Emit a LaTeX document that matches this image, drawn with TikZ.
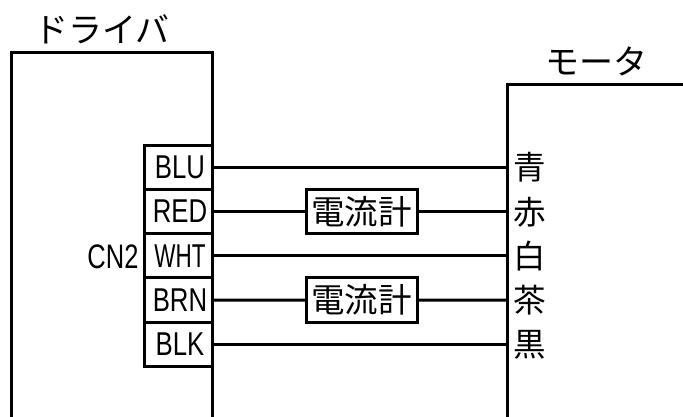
\documentclass[tikz,border=0pt]{standalone}
\usepackage{fontspec}
\usepackage{graphicx}
\setmainfont{Liberation Sans}
\newfontfamily\jpfont{Noto Sans CJK JP}
\newcommand{\narrowtxt}[2]{\scalebox{#1}[1]{#2}}
\tikzset{
  ln/.style={line width=3pt,black},
  pinbox/.style={draw,line width=3pt,minimum width=68pt,minimum height=44.3pt,inner sep=0pt,outer sep=0pt,font=\fontsize{33}{33}\selectfont},
  meterbox/.style={draw,line width=3pt,minimum width=111pt,minimum height=44.5pt,inner sep=0pt,outer sep=0pt,fill=white,font=\fontsize{33.5}{33.5}\jpfont},
  jptxt/.style={inner sep=0pt,font=\fontsize{32.5}{32.5}\jpfont},
  kanatxt/.style={inner sep=0pt,font=\fontsize{34}{34}\jpfont},
  cntxt/.style={inner sep=0pt,font=\fontsize{34}{34}\selectfont}
}
\begin{document}
\begin{tikzpicture}[x=1pt,y=-1pt]
\useasboundingbox (0,0) rectangle (683,417);
\draw[ln] (11,417) -- (11,52.5) -- (212,52.5) -- (212,417);
\draw[ln] (683,84.5) -- (507.7,84.5) -- (507.7,417);
\node[kanatxt] (drv) at (102,29.5) {ドライバ};
\node[kanatxt] (mot) at (596,61.5) {モータ};
\node[pinbox] (blu) at (178,167.2) {\hspace*{4pt}\narrowtxt{0.78}{BLU}};
\node[pinbox] (red) at (178,211.5) {\hspace*{4pt}\narrowtxt{0.78}{RED}};
\node[pinbox] (wht) at (178,255.8) {\hspace*{4pt}\narrowtxt{0.68}{WHT}};
\node[pinbox] (brn) at (178,300.1) {\hspace*{4pt}\narrowtxt{0.78}{BRN}};
\node[pinbox] (blk) at (178,344.4) {\hspace*{4pt}\narrowtxt{0.78}{BLK}};
\node[cntxt] (cn) at (113,257) {\narrowtxt{0.75}{CN2}};
\node[meterbox] (m1) at (361.5,211.5) {電流計};
\node[meterbox] (m2) at (361.5,300) {電流計};
\node[jptxt,anchor=west] (c1) at (513,167.5) {青};
\node[jptxt,anchor=west] (c2) at (513,212) {赤};
\node[jptxt,anchor=west] (c3) at (513,256.5) {白};
\node[jptxt,anchor=west] (c4) at (513,300.5) {茶};
\node[jptxt,anchor=west] (c5) at (513,345) {黒};
\coordinate (e1) at (507.7,167.2);
\coordinate (e2) at (507.7,211.5);
\coordinate (e3) at (507.7,255.8);
\coordinate (e4) at (507.7,300.1);
\coordinate (e5) at (507.7,344.4);
\draw[ln] (blu.east) -- (e1);
\draw[ln] (red.east) -- (m1.west);
\draw[ln] (m1.east) -- (e2);
\draw[ln] (wht.east) -- (e3);
\draw[ln] (brn.east) -- (m2.west);
\draw[ln] (m2.east) -- (e4);
\draw[ln] (blk.east) -- (e5);
\end{tikzpicture}
\end{document}
